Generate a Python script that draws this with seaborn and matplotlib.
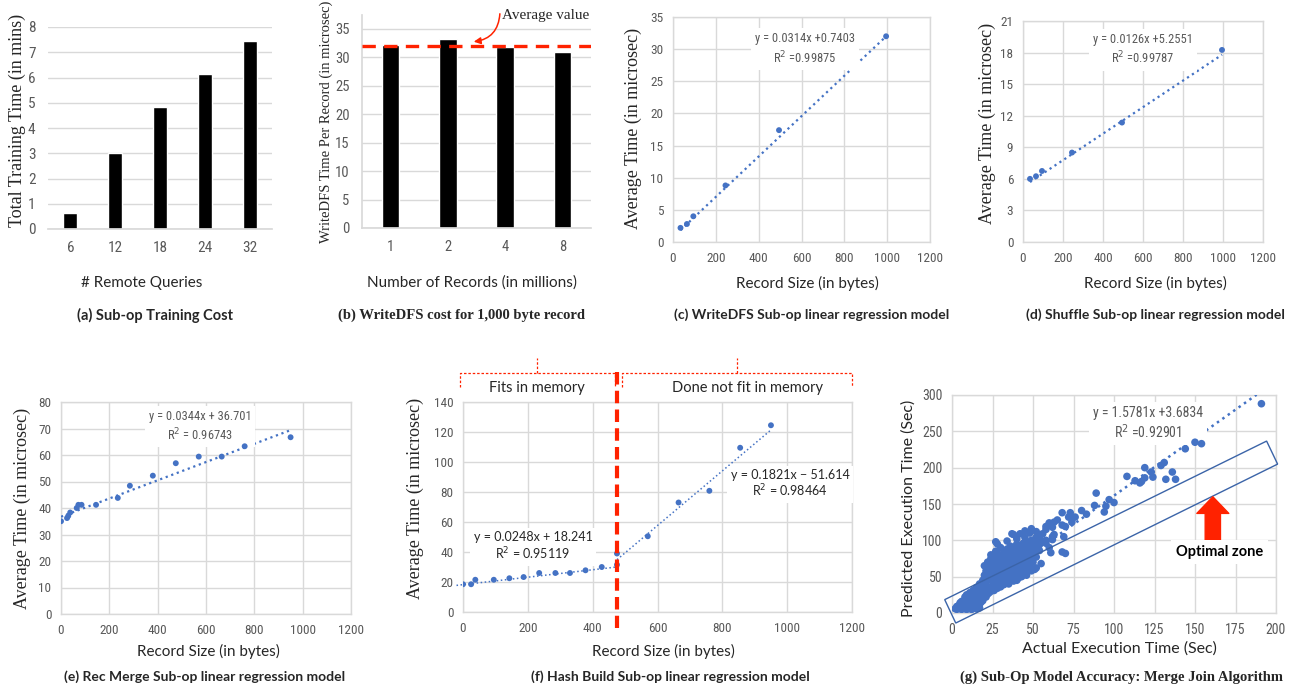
import numpy as np
import pandas as pd
import matplotlib
matplotlib.use("Agg")
import matplotlib.pyplot as plt
import seaborn as sns
from matplotlib import font_manager
from matplotlib.patches import Polygon

# ---------------- DATA ----------------
# (a)
a_queries = ["6", "12", "18", "24", "32"]
a_time = [0.65, 3.0, 4.85, 6.15, 7.45]
# (b)
b_records = ["1", "2", "4", "8"]
b_time = [32.2, 33.2, 31.7, 30.9]
b_average = 32.0
# (c)
c_size = [35, 65, 95, 245, 495, 995]
c_time = [2.2, 2.8, 4.0, 8.8, 17.4, 32.0]
c_fit = (0.0314, 0.7403)
# (d)
d_size = [35, 65, 95, 245, 495, 995]
d_time = [6.0, 6.25, 6.75, 8.5, 11.35, 18.25]
d_fit = (0.0126, 5.2551)
# (e)
e_size = [0, 25, 30, 38, 65, 72, 85, 145, 235, 285, 380, 475, 570, 665, 760, 950]
e_time = [35.0, 36.2, 37.0, 38.3, 40.0, 41.2, 41.2, 41.2, 43.8, 48.4, 52.2, 56.9, 59.4, 59.4, 63.3, 66.7]
e_fit = (0.0344, 36.701)
# (f)
f_size_in = [0, 25, 38, 95, 143, 187, 235, 285, 330, 378, 428, 475]
f_time_in = [18.5, 18.5, 21.5, 21.5, 22.5, 23.3, 26.0, 26.0, 26.0, 27.8, 30.0, 31.5]
f_size_out = [475, 570, 665, 760, 855, 950]
f_time_out = [39.0, 50.5, 73.0, 80.8, 109.5, 124.5]
f_fit_in = (0.0248, 18.241)
f_fit_out = (0.1821, -51.614)
f_memory_limit = 475
# (g)
g_actual = [191, 154, 150, 144, 131, 129, 136, 132, 138, 123, 124, 119, 119, 117, 113, 108, 116,
            97, 100, 95, 94, 89, 88, 83, 80, 76, 73, 72, 74, 68, 70, 68, 60, 58, 63, 62, 69, 68, 70, 61,
            56, 54, 49, 45, 42, 37, 40, 34, 27, 28, 51, 46, 52, 47, 53, 50, 44, 49, 58, 52,
            2, 3, 4, 5, 6, 7, 8, 9, 10, 11, 12, 13, 14, 15, 16, 17,
            3, 4, 5, 6, 7, 8, 9, 10, 11, 12, 13, 14, 15, 16, 17, 18, 19,
            5, 6, 7, 8, 9, 10, 11, 12, 13, 14, 15, 16, 17, 18, 19, 20, 21, 22, 23, 24, 25, 26, 27, 28, 29, 30, 31, 32, 33, 34, 35,
            8, 9, 10, 11, 12, 13, 14, 15, 16, 17, 18, 19, 20, 20, 21, 21, 22, 22, 23, 23, 24, 24, 25, 25, 26, 26, 27, 27, 28, 28,
            29, 29, 30, 30, 31, 31, 32, 32, 33, 33, 34, 34, 35, 35, 36, 36, 37, 37, 38, 38, 39, 40, 40, 41, 42, 42, 43, 43, 44,
            45, 45, 46, 47, 47, 48, 49, 50, 50, 51, 52, 53, 54,
            18, 19, 20, 21, 22, 23, 24, 25, 26, 27, 28, 29, 30, 31, 32, 33, 34, 35, 36, 37, 38, 39, 40, 41, 42, 44, 45, 46, 48, 50,
            18, 19, 20, 21, 22, 23, 24, 25, 26, 27, 28, 29, 30, 31, 32, 33, 34, 35, 36,
            38, 36, 40, 45, 48, 52, 55, 58, 60, 63, 65, 62,
            26, 28, 30, 32, 34, 36, 38, 40, 42, 44, 46, 48, 50, 52, 30, 33, 36, 39, 42, 45, 48, 51, 54, 56,
            40, 43, 46, 49, 52, 55, 35, 38, 41, 25, 27, 29, 31, 33, 20, 22, 24, 27, 30, 60, 58, 62]
g_predicted = [288, 233, 235, 226, 207, 203, 194, 184, 184, 194, 187, 186, 200, 181, 182, 188, 179,
               156, 152, 147, 139, 165, 148, 136, 141, 132, 138, 132, 125, 138, 119, 121, 124, 119, 108, 101, 105, 84, 82, 83,
               109, 102, 116, 113, 109, 109, 102, 99, 98, 95, 60, 59, 77, 70, 91, 86, 82, 100, 96, 98,
               6, 5, 7, 6, 5, 7, 6, 5, 6, 7, 5, 6, 7, 6, 8, 7,
               9, 10, 11, 9, 12, 10, 13, 11, 14, 12, 10, 13, 11, 14, 12, 15, 17,
               14, 16, 15, 18, 17, 20, 19, 22, 21, 24, 23, 26, 25, 28, 27, 30, 29, 33, 32, 36, 35, 38, 37, 41, 40, 44, 43, 47, 46, 50, 49,
               22, 25, 24, 28, 27, 31, 30, 35, 34, 40, 38, 45, 43, 52, 50, 58, 55, 64, 60, 70, 66, 75, 72, 78, 70, 62, 75, 66, 72, 60,
               68, 78, 62, 72, 56, 68, 75, 62, 70, 58, 65, 78, 60, 72, 68, 82, 62, 75, 70, 58, 66, 74, 62, 80, 70, 60, 88, 76, 66,
               92, 80, 74, 95, 85, 90, 78, 95, 88, 84, 92, 100, 86,
               20, 22, 24, 22, 26, 28, 30, 33, 31, 35, 34, 38, 36, 40, 39, 42, 44, 46, 48, 50, 52, 50, 55, 53, 58, 56, 62, 60, 65, 70,
               32, 35, 38, 42, 45, 48, 52, 55, 58, 50, 54, 58, 52, 50, 54, 62, 56, 54, 58,
               108, 92, 95, 104, 110, 112, 108, 115, 122, 125, 128, 118,
               80, 82, 78, 84, 88, 86, 90, 88, 92, 96, 98, 96, 100, 104, 66, 74, 76, 80, 84, 86, 82, 90, 94, 98,
               45, 50, 52, 58, 62, 68, 40, 44, 48, 45, 48, 52, 56, 60, 65, 70, 80, 85, 90, 90, 100, 105]
g_fit = (1.5781, 3.6834)

# ---------------- STYLE ----------------
sns.set_theme(style="white")
avail = {f.name for f in font_manager.fontManager.ttflist}
def pick(*names):
    for n in names:
        if n in avail:
            return n
    return "DejaVu Sans"
NARROW = pick("Liberation Sans Narrow", "Roboto Condensed", "Open Sans Condensed", "Liberation Sans")
SANS = pick("Lato", "Open Sans", "Liberation Sans")
SERIF = pick("Liberation Serif", "DejaVu Serif")
plt.rcParams["font.family"] = [SANS, "DejaVu Sans"]

W, H = 1301, 688
fig = plt.figure(figsize=(W / 100, H / 100), dpi=100)
fig.patch.set_facecolor("white")

GRID = "#D9D9D9"
TICK = "#595959"
BLUE = "#4472C4"
RED = "#FF2200"

def axpx(l, t, r, b):
    return fig.add_axes([l / W, 1 - b / H, (r - l) / W, (b - t) / H])

def ftext(x, y, s, **kw):
    fig.text(x / W, 1 - y / H, s, ha=kw.pop("ha", "center"), va=kw.pop("va", "center"), **kw)

def style_ticks(ax, size, pad=6):
    ax.tick_params(axis="both", length=0, labelsize=size, labelcolor=TICK, pad=pad)
    for lab in ax.get_xticklabels() + ax.get_yticklabels():
        lab.set_fontfamily(NARROW)

def full_grid(ax):
    ax.grid(True, color=GRID, linewidth=1)
    ax.set_axisbelow(True)
    for s in ax.spines.values():
        s.set_color(GRID)
        s.set_linewidth(1)

# ---------------- (a) ----------------
ax = axpx(48, 27, 272, 229)
sns.barplot(x=a_queries, y=a_time, color="black", width=0.31, saturation=1, ax=ax)
ax.set_ylim(0, 8)
ax.set_yticks(range(0, 9))
ax.set_xlim(-0.5, 4.5)
ax.yaxis.grid(True, color=GRID, linewidth=1)
ax.set_axisbelow(True)
for k in ["left", "right", "top"]:
    ax.spines[k].set_visible(False)
ax.spines["bottom"].set_color(GRID)
ax.set_xlabel(""); ax.set_ylabel("")
style_ticks(ax, 11, pad=9)
ftext(17, 120, "Total Training Time (in mins)", rotation=90, family=SERIF, fontsize=13)
ftext(142, 283, "# Remote Queries", fontsize=11)
ftext(155, 315, "(a) Sub-op Training Cost", fontsize=10.5, weight="bold")

# ---------------- (b) ----------------
ax = axpx(362, 15, 591, 228)
sns.barplot(x=b_records, y=b_time, color="black", width=0.31, saturation=1, ax=ax)
ax.set_ylim(0, 37.4)
ax.set_yticks(range(0, 36, 5))
ax.set_xlim(-0.5, 3.5)
ax.yaxis.grid(True, color=GRID, linewidth=1)
ax.set_axisbelow(True)
for k in ["right", "top"]:
    ax.spines[k].set_visible(False)
ax.spines["bottom"].set_color(GRID)
ax.spines["left"].set_color(GRID)
ax.axhline(b_average, color=RED, linewidth=2.4, dashes=(4, 2.5), zorder=5)
ax.set_xlabel(""); ax.set_ylabel("")
style_ticks(ax, 10.5, pad=9)
ax.annotate("", xy=(471 / W, 1 - 42 / H), xycoords="figure fraction",
            xytext=(500 / W, 1 - 11 / H), textcoords="figure fraction",
            arrowprops=dict(arrowstyle="-|>", color=RED, lw=1.1,
                            connectionstyle="arc3,rad=-0.45", mutation_scale=10))
ftext(502, 16, "Average value", ha="left", family=SERIF, fontsize=11)
ftext(326, 122, "WriteDFS Time Per Record (in microsec)", rotation=90, family=SERIF, fontsize=10.5)
ftext(472, 283, "Number of Records (in millions)", fontsize=11)
ftext(462, 315, "(b) WriteDFS cost for 1,000 byte record", family=SERIF, fontsize=10.5, weight="bold")

# ---------------- regression helper ----------------
def reg_panel(ax, xs, ys, fits, xlim, ylim, ystep, size=18, lw=1.6):
    sns.scatterplot(x=xs, y=ys, color=BLUE, s=size, edgecolor="none", linewidth=0, ax=ax, zorder=4)
    for (m, c), (x0, x1) in fits:
        tx = np.array([x0, x1])
        sns.lineplot(x=tx, y=m * tx + c, color=BLUE, linewidth=lw, linestyle=":", ax=ax, zorder=3)
    ax.set_xlim(*xlim)
    ax.set_ylim(*ylim)
    ax.set_xticks(np.arange(xlim[0], xlim[1] + 1, 200))
    ax.set_yticks(np.arange(ylim[0], ylim[1] + 0.01, ystep))
    full_grid(ax)
    ax.set_xlabel(""); ax.set_ylabel("")

def eq_text(ax, x, y1, y2, s1, s2, size=9, color=TICK, family=None, spacing=1.3):
    fam = family or NARROW
    box = dict(boxstyle="square,pad=0.3", fc="white", ec="none")
    ax.text(x, (y1 + y2) / 2, s1 + "\n" + s2, ha="center", va="center", multialignment="center",
            fontsize=size, color=color, family=fam, bbox=box, zorder=3.5, linespacing=spacing)

# ---------------- (c) ----------------
ax = axpx(673, 17, 930, 242)
reg_panel(ax, c_size, c_time, [(c_fit, (35, 995))], (0, 1200), (0, 35), 5)
style_ticks(ax, 9.5, pad=7)
eq_text(ax, 616, 31.3, 28.7, "y = 0.0314x +0.7403", "R$^2$ =0.99875", spacing=1.4)
ftext(633, 128, "Average Time (in microsec)", rotation=90, family=SERIF, fontsize=13)
ftext(807, 283, "Record Size (in bytes)", fontsize=11)
ftext(812, 315, "(c) WriteDFS Sub-op linear regression model", fontsize=10, weight="bold")

# ---------------- (d) ----------------
ax = axpx(1023, 21, 1263, 242)
reg_panel(ax, d_size, d_time, [(d_fit, (35, 995))], (0, 1200), (0, 21), 3)
style_ticks(ax, 9.5, pad=7)
eq_text(ax, 600, 19.0, 17.5, "y = 0.0126x +5.2551", "R$^2$ =0.99787", spacing=1.3)
ftext(987, 123, "Average Time (in microsec)", rotation=90, family=SERIF, fontsize=13)
ftext(1155, 283, "Record Size (in bytes)", fontsize=11)
ftext(1155, 315, "(d) Shuffle Sub-op linear regression model", fontsize=10, weight="bold")

# ---------------- (e) ----------------
ax = axpx(61, 402, 351, 614)
reg_panel(ax, e_size, e_time, [(e_fit, (0, 950))], (0, 1200), (0, 80), 10)
style_ticks(ax, 9.5, pad=7)
eq_text(ax, 575, 73.6, 67.9, "y = 0.0344x + 36.701", "R$^2$ = 0.96743", spacing=1.25)
ftext(22, 508, "Average Time (in microsec)", rotation=90, family=SERIF, fontsize=13)
ftext(208, 651, "Record Size (in bytes)", fontsize=11)
ftext(205, 677, "(e) Rec Merge Sub-op linear regression model", fontsize=10, weight="bold")

# ---------------- (f) ----------------
ax = axpx(463, 402, 852, 612)
reg_panel(ax, f_size_in + f_size_out, f_time_in + f_time_out,
          [(f_fit_in, (-20, 475)), (f_fit_out, (475, 950))], (0, 1200), (0, 140), 20, lw=1.1)
for line in ax.get_lines():
    line.set_clip_on(False)
style_ticks(ax, 9.5, pad=7)
eq_text(ax, 216, 48, 39.3, "y = 0.0248x + 18.241", "R$^2$ = 0.95119", color="#262626", family=SANS, spacing=1.15)
eq_text(ax, 1009, 90, 80.7, "y = 0.1821x \u2212 51.614", "R$^2$ = 0.98464", color="#262626", family=SANS, spacing=1.15)
fig.add_artist(plt.Line2D([617 / W, 617 / W], [1 - 372 / H, 1 - 628 / H], color=RED,
                          linewidth=3, dashes=(3, 1.5), zorder=10))
def brace(x0, xm, x1):
    yb, yt, yp = 1 - 387 / H, 1 - 373 / H, 1 - 358 / H
    kw = dict(color=RED, linewidth=0.9, linestyle=(0, (2, 1.5)))
    fig.add_artist(plt.Line2D([x0 / W, x0 / W, x1 / W, x1 / W], [yb, yt, yt, yb], **kw))
    fig.add_artist(plt.Line2D([xm / W, xm / W], [yt, yp], **kw))
brace(460, 537, 615)
brace(622, 737, 852)
ftext(537, 388, "Fits in memory", fontsize=10.5)
ftext(747, 388, "Done not fit in memory", fontsize=10.5)
ftext(415, 498, "Average Time (in microsec)", rotation=90, family=SERIF, fontsize=13)
ftext(663, 651, "Record Size (in bytes)", fontsize=11)
ftext(670, 677, "(f) Hash Build Sub-op linear regression model", fontsize=10, weight="bold")

# ---------------- (g) ----------------
ax = axpx(952, 395, 1276, 613)
sns.scatterplot(x=g_actual, y=g_predicted, color=BLUE, s=30, edgecolor="none", linewidth=0, ax=ax, zorder=4)
gx = np.array([0, 188])
sns.lineplot(x=gx, y=g_fit[0] * gx + g_fit[1], color=BLUE, linewidth=1.8, linestyle=":", ax=ax, zorder=3)
ax.set_xlim(0, 200); ax.set_ylim(0, 300)
ax.set_xticks(range(0, 201, 25)); ax.set_yticks(range(0, 301, 50))
full_grid(ax)
ax.set_xlabel(""); ax.set_ylabel("")
style_ticks(ax, 10, pad=7)
eq_text(ax, 121, 271, 250, "y = 1.5781x +3.6834", "R$^2$ =0.92901", size=10, spacing=1.15)
ax.add_patch(Polygon([(-4.5, 18.4), (194.2, 236.6), (201.0, 204.9), (2.3, -13.8)], closed=True,
                     fill=False, edgecolor="#3B64A8", linewidth=1, clip_on=False, zorder=5))
ax.annotate("", xy=(161, 160), xytext=(161, 100),
            arrowprops=dict(arrowstyle="simple,head_length=1.2,head_width=2.3,tail_width=1.1",
                            color=RED, mutation_scale=10, shrinkA=0, shrinkB=0), zorder=6)
ax.text(165, 84, "Optimal zone", ha="center", va="center", fontsize=10.5, weight="bold", color="black",
        bbox=dict(boxstyle="square,pad=0.35", fc="white", ec="none"), zorder=6)
ftext(909, 508, "Predicted Execution Time (Sec)", rotation=90, fontsize=11.5)
ftext(1119, 649, "Actual Execution Time (Sec)", fontsize=11.5)
ftext(1121, 677, "(g) Sub-Op Model Accuracy: Merge Join Algorithm", family=SERIF, fontsize=10.5, weight="bold")

fig.savefig("out.png", dpi=100, facecolor="white")
